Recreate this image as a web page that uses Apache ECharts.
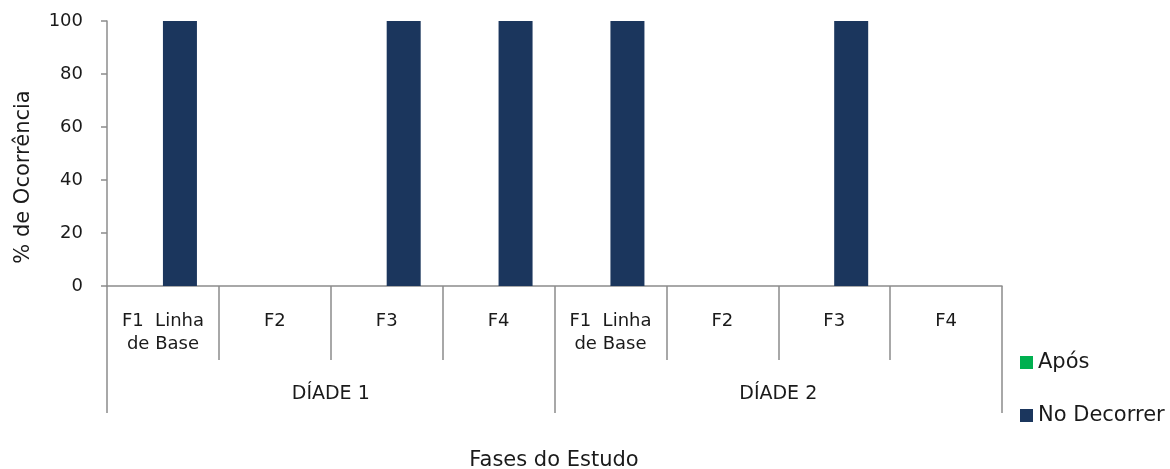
<!DOCTYPE html>
<html>
<head>
<meta charset="utf-8">
<script src="https://cdn.jsdelivr.net/npm/echarts@6/dist/echarts.min.js"></script>
<style>
  html, body { margin: 0; padding: 0; background: #fff; }
  #chart { width: 1170px; height: 469px; }
</style>
</head>
<body>
<div id="chart"></div>
<script>
const phases = ['F1  Linha\nde Base', 'F2', 'F3', 'F4', 'F1  Linha\nde Base', 'F2', 'F3', 'F4'];
const groups = ['DÍADE 1', 'DÍADE 2'];
const apos = [0, 0, 0, 0, 0, 0, 0, 0];
const noDecorrer = [100, 0, 100, 100, 100, 0, 100, 0];

const font = 'DejaVu Sans, Verdana, sans-serif';
const axisGrey = '#8c8c8c';
const textColor = '#1a1a1a';

const chart = echarts.init(document.getElementById('chart'));

chart.setOption({
  animation: false,
  textStyle: { fontFamily: font, color: textColor },
  grid: { left: 107, right: 168, top: 21, bottom: 183 },
  legend: {
    orient: 'vertical',
    left: 1020,
    top: 352,
    padding: 0,
    itemGap: 32,
    itemWidth: 13,
    itemHeight: 13,
    icon: 'rect',
    textStyle: { fontFamily: font, fontSize: 21, lineHeight: 21, color: textColor },
    data: ['Após', 'No Decorrer']
  },
  xAxis: [
    {
      type: 'category',
      data: phases,
      position: 'bottom',
      axisLine: { lineStyle: { color: axisGrey, width: 1.5 } },
      axisTick: { show: true, interval: 0, length: 74, lineStyle: { color: axisGrey, width: 1.5 } },
      axisLabel: { interval: 0, margin: 24, fontSize: 18, lineHeight: 23, color: textColor, fontFamily: font }
    },
    {
      type: 'category',
      data: groups,
      position: 'bottom',
      axisLine: { show: false },
      axisTick: { show: true, interval: 0, length: 127, lineStyle: { color: axisGrey, width: 1.5 } },
      axisLabel: { interval: 0, margin: 99, fontSize: 19, color: textColor, fontFamily: font }
    }
  ],
  yAxis: {
    type: 'value',
    min: 0,
    max: 100,
    interval: 20,
    axisLine: { show: true, lineStyle: { color: axisGrey, width: 1.5 } },
    axisTick: { show: true, length: 6, lineStyle: { color: axisGrey, width: 1.5 } },
    splitLine: { show: false },
    axisLabel: { margin: 24, fontSize: 18, color: textColor, fontFamily: font }
  },
  series: [
    {
      name: 'Após',
      type: 'bar',
      data: apos,
      barWidth: 34,
      barGap: '0%',
      itemStyle: { color: '#00b050' }
    },
    {
      name: 'No Decorrer',
      type: 'bar',
      data: noDecorrer,
      barWidth: 34,
      barGap: '0%',
      itemStyle: { color: '#1b365d' }
    }
  ],
  graphic: [
    {
      type: 'text',
      x: 24,
      y: 177,
      rotation: Math.PI / 2,
      style: {
        text: '% de Ocorrência',
        fontFamily: font,
        fontSize: 21,
        fill: textColor,
        align: 'center',
        verticalAlign: 'middle'
      }
    },
    {
      type: 'text',
      x: 554,
      y: 461,
      style: {
        text: 'Fases do Estudo',
        fontFamily: font,
        fontSize: 21,
        fill: textColor,
        align: 'center',
        verticalAlign: 'middle'
      }
    }
  ]
});
</script>
</body>
</html>
